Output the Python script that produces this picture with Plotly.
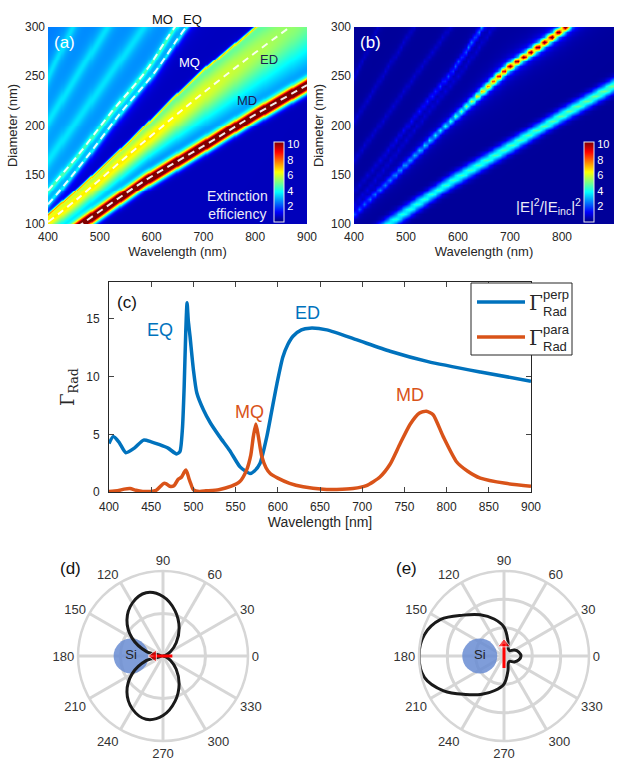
import numpy as np
import plotly.graph_objects as go

W, H = 622, 761
def PX(x): return x / W
def PY(y): return 1 - y / H

# ---------------- data: mode positions (wavelength nm -> diameter nm) ----------------
MD_LAM = [400, 465, 587, 703, 800, 900]
MD_D = [76, 100, 144, 180, 211, 241]
ED_LAM = [400, 458, 555, 639, 697, 780, 867, 900]
ED_D = [102, 126, 170, 207, 232, 266, 300, 313]
MQ_LAM = [400, 458, 555, 639, 703, 800, 900]
MQ_D = [110, 136, 183, 227, 258, 300, 340]
EQ_LAM = [400, 423, 478, 542, 606, 664, 900]
EQ_D = [120, 134, 170, 214, 254, 298, 450]
MO_LAM = [400, 458, 523, 587, 645, 900]
MO_D = [134, 170, 214, 254, 300, 470]
S1_LAM = [400, 448, 900]; S1_D = [250, 302, 800]
S2_LAM = [400, 516, 900]; S2_D = [205, 302, 640]
S3_LAM = [400, 587, 900]; S3_D = [165, 302, 530]

# extinction amplitudes / widths read along the bands
ED_AMP_LAM = [400, 600, 900]; ED_AMP = [5.8, 6.0, 4.6]
ED_W_LAM = [400, 600, 900]; ED_W = [12, 20, 55]

# field enhancement (b)
MQB_LAM = [400, 476, 585, 694, 806, 900]; MQB_D = [110, 149, 205, 258, 300, 340]
MQB_AMP_LAM = [400, 500, 580, 620, 650, 680, 800]; MQB_AMP = [1.8, 3.0, 4.0, 5.5, 8.0, 10.5, 11.5]
MDB_AMP_LAM = [400, 600, 900]; MDB_AMP = [3.8, 4.2, 4.8]
MOB_AMP_LAM = [400, 500, 600, 660]; MOB_AMP = [0.5, 1.0, 2.0, 3.0]

# (c) radiative decay rates
PERP_LAM = [400, 405, 412, 420, 430, 441, 450, 460, 470, 480, 484, 487, 489, 491, 492.5, 494, 496, 500, 504, 512,
            520, 531, 543, 555, 562, 567, 572, 579, 587, 593, 599, 606, 612, 618, 628, 638, 658, 693, 733, 778, 840, 900]
PERP_VAL = [4.2, 4.8, 4.3, 3.4, 3.8, 4.5, 4.35, 4.1, 3.8, 3.3, 3.5, 5.5, 9.0, 14.0, 16.4, 14.8, 13.5, 10.6, 8.6, 7.1,
            6.0, 4.8, 3.6, 2.2, 1.8, 1.6, 1.8, 2.5, 4.8, 7.1, 9.4, 11.7, 12.8, 13.5, 14.05, 14.2, 14.05, 13.2, 12.2, 11.3, 10.4, 9.6]
PARA_LAM = [400, 410, 418, 425, 432, 440, 450, 456, 461, 465, 468, 472, 477, 482, 486, 489, 491, 493, 495, 497, 500,
            507, 515, 530, 545, 555, 563, 568, 571, 574, 577, 581, 586, 591, 600, 614, 630, 654, 670, 689, 705, 721,
            733, 745, 757, 768, 776, 784, 796, 812, 825, 840, 870, 900]
PARA_VAL = [0.05, 0.1, 0.25, 0.3, 0.15, 0.05, 0.05, 0.15, 0.5, 0.75, 0.7, 0.5, 0.55, 1.1, 1.3, 1.7, 1.9, 1.6, 1.1, 0.7, 0.2,
            0.05, 0.1, 0.2, 0.5, 0.9, 1.9, 3.2, 4.8, 5.9, 4.8, 3.1, 2.1, 1.6, 1.2, 0.75, 0.45, 0.23, 0.22, 0.3, 0.55, 1.3,
            2.4, 4.2, 5.9, 6.85, 7.0, 6.7, 4.8, 2.6, 1.8, 1.2, 0.75, 0.5]

# (d), (e) emission patterns
THETA = [0, 15, 30, 45, 60, 75, 90, 105, 120, 135, 150, 165, 180, 195, 210, 225, 240, 255, 270, 285, 300, 315, 330, 345, 360]
R_D = [0.0, 0.03, 0.1, 0.22, 0.38, 0.55, 0.7, 0.77, 0.72, 0.6, 0.42, 0.2, 0.02, 0.2, 0.42, 0.6, 0.72, 0.77, 0.7, 0.55, 0.38, 0.22, 0.1, 0.03, 0.0]
R_E = [0.2, 0.18, 0.14, 0.09, 0.1, 0.18, 0.34, 0.45, 0.56, 0.68, 0.86, 0.97, 1.0, 0.97, 0.82, 0.64, 0.52, 0.42, 0.33, 0.18, 0.1, 0.09, 0.14, 0.18, 0.2]
ANG_TICKS = [0, 30, 60, 90, 120, 150, 180, 210, 240, 270, 300, 330]

JET = [[0, 'rgb(0,0,128)'], [0.125, 'rgb(0,0,255)'], [0.375, 'rgb(0,255,255)'],
       [0.625, 'rgb(255,255,0)'], [0.875, 'rgb(255,0,0)'], [1, 'rgb(128,0,0)']]

def lor(x, w):
    return 1.0 / (1.0 + (x / w) ** 2)

def sig(x):
    return 1.0 / (1.0 + np.exp(-x))

# ---------------- panel (a) grid ----------------
lam_a = np.arange(400, 901, 2.0)
dia_a = np.arange(100, 301, 1.0)
La, Da = np.meshgrid(lam_a, dia_a)
dMD = Da - np.interp(La, MD_LAM, MD_D)
dED = Da - np.interp(La, ED_LAM, ED_D)
dMQ = Da - np.interp(La, MQ_LAM, MQ_D)
dEQ = Da - np.interp(La, EQ_LAM, EQ_D)
dMO = Da - np.interp(La, MO_LAM, MO_D)
ed = np.interp(La, ED_AMP_LAM, ED_AMP) * lor(dED, np.interp(La, ED_W_LAM, ED_W))
ed = ed * sig(dMD / 2.0) * sig(-(dMQ - 1.5) / 0.7)
z_a = 0.6 + ed + 11.5 * np.exp(-(dMD / 7.0) ** 2) + 3.0 * lor(dMQ, 1.2)
z_a += 1.9 * sig(dEQ / 4.0) + 2.0 * lor(dEQ, 3.5) + 2.0 * lor(dMO, 4.0)
for sl, sd in [(S1_LAM, S1_D), (S2_LAM, S2_D), (S3_LAM, S3_D)]:
    z_a += 1.0 * lor(Da - np.interp(La, sl, sd), 10.0)

# ---------------- panel (b) grid (coarse sampling) ----------------
lam_b = np.arange(400, 901, 5.0)
dia_b = np.arange(100, 301, 5.0)
Lb, Db = np.meshgrid(lam_b, dia_b)
z_b = 0.25 + np.interp(Lb, MDB_AMP_LAM, MDB_AMP) * np.exp(-((Db - np.interp(Lb, MD_LAM, MD_D)) / 6.5) ** 2)
z_b += np.interp(Lb, MQB_AMP_LAM, MQB_AMP) * lor(Db - np.interp(Lb, MQB_LAM, MQB_D), 2.8)
z_b += np.interp(Lb, MOB_AMP_LAM, MOB_AMP) * lor(Db - np.interp(Lb, MO_LAM, MO_D), 2.5)
z_b += 0.6 * lor(Db - np.interp(Lb, EQ_LAM, EQ_D), 2.5)
for sl, sd in [(S1_LAM, S1_D), (S2_LAM, S2_D), (S3_LAM, S3_D)]:
    z_b += 0.6 * lor(Db - np.interp(Lb, sl, sd), 3.0)

FONT = 'Liberation Sans, Arial, sans-serif'
TXT = '#262626'
fig = go.Figure()

def cbar(xpx):
    return dict(x=PX(xpx), xanchor='left', y=PY(222), yanchor='bottom', len=80 / H, lenmode='fraction',
                thickness=10, thicknessmode='pixels', xpad=0, ypad=0, tickvals=[2, 4, 6, 8, 10],
                tickfont=dict(color='white', size=11, family=FONT), outlinecolor='#e8e8f0', outlinewidth=1, ticks='')

fig.add_trace(go.Heatmap(x=lam_a, y=dia_a, z=z_a, colorscale=JET, zmin=0, zmax=10.3, zsmooth='best',
                         xaxis='x', yaxis='y', colorbar=cbar(274), hoverinfo='skip'))
fig.add_trace(go.Heatmap(x=lam_b, y=dia_b, z=z_b, colorscale=JET, zmin=0, zmax=10.3, zsmooth='best',
                         xaxis='x2', yaxis='y2', colorbar=cbar(584), hoverinfo='skip'))

for lx, dy in [(MO_LAM, MO_D), (EQ_LAM, EQ_D), (ED_LAM, ED_D), (MD_LAM, MD_D)]:
    fig.add_trace(go.Scatter(x=lx, y=dy, mode='lines', xaxis='x', yaxis='y', showlegend=False,
                             line=dict(color='rgba(255,255,255,0.9)', width=2, dash='7px,5px', shape='spline')))

# ---------------- panel (c) ----------------
BLUE, ORANGE = '#0072BD', '#D95319'
fig.add_trace(go.Scatter(x=PERP_LAM, y=PERP_VAL, mode='lines', xaxis='x3', yaxis='y3', showlegend=False,
                         line=dict(color=BLUE, width=3.5, shape='spline', smoothing=0.6)))
fig.add_trace(go.Scatter(x=PARA_LAM, y=PARA_VAL, mode='lines', xaxis='x3', yaxis='y3', showlegend=False,
                         line=dict(color=ORANGE, width=3.5, shape='spline', smoothing=0.6)))

# ---------------- panels (d), (e) ----------------
def polar_traces(sub, r, si_r, arrow_r, arrow_th, sym):
    fig.add_trace(go.Scatterpolar(r=[si_r], theta=[180], mode='markers+text', subplot=sub, showlegend=False,
                                  marker=dict(size=35, color='rgba(105,140,210,0.85)'), text=['Si'],
                                  textposition='middle center', textfont=dict(size=13, color='#222', family=FONT)))
    fig.add_trace(go.Scatterpolar(r=r, theta=THETA, mode='lines', subplot=sub, showlegend=False,
                                  line=dict(color='#1a1a1a', width=3, shape='spline')))
    fig.add_trace(go.Scatterpolar(r=arrow_r, theta=arrow_th, mode='lines+markers', subplot=sub, showlegend=False,
                                  line=dict(color='#ff0000', width=3),
                                  marker=dict(symbol=sym, size=[0, 11], color='#ff0000')))

polar_traces('polar', R_D, 0.375, [0.11, 0.11], [0, 180], 'triangle-left')
polar_traces('polar2', R_E, 0.285, [0.14, 0.14], [270, 90], 'triangle-up')

GRID = '#d6d6d6'
PCY, PR = 656, 85
def polar_layout(cx, rings):
    return dict(domain=dict(x=[PX(cx - PR), PX(cx + PR)], y=[PY(PCY + PR), PY(PCY - PR)]), bgcolor='white',
                radialaxis=dict(range=[0, 1], showticklabels=False, ticks='', showline=False,
                                tickvals=rings, gridcolor=GRID, gridwidth=2.5),
                angularaxis=dict(tickmode='array', tickvals=ANG_TICKS, ticktext=[str(t) for t in ANG_TICKS],
                                 ticks='', gridcolor=GRID, gridwidth=2.5, linecolor=GRID, linewidth=2.5,
                                 showline=True, tickfont=dict(size=13, color='#333', family=FONT),
                                 rotation=0, direction='counterclockwise'))

ax_common = dict(showgrid=False, zeroline=False, tickfont=dict(size=12, color=TXT, family=FONT),
                 ticks='', automargin=False)
fig.update_layout(
    width=W, height=H, autosize=False, margin=dict(l=0, r=0, t=0, b=0, pad=0),
    paper_bgcolor='white', plot_bgcolor='white', showlegend=False,
    font=dict(family=FONT, color=TXT),
    xaxis=dict(domain=[PX(48), PX(307)], range=[400, 900], dtick=100, anchor='y', ticklabelstandoff=4,
               title=dict(text='Wavelength (nm)', font=dict(size=13), standoff=1), **ax_common),
    yaxis=dict(domain=[PY(224), PY(27)], range=[100, 300], dtick=50, anchor='x', ticklabelstandoff=2,
               title=dict(text='Diameter (nm)', font=dict(size=13), standoff=4), **ax_common),
    xaxis2=dict(domain=[PX(354), PX(614)], range=[400, 900], dtick=100, anchor='y2', ticklabelstandoff=4,
                title=dict(text='Wavelength (nm)', font=dict(size=13), standoff=1), **ax_common),
    yaxis2=dict(domain=[PY(224), PY(27)], range=[100, 300], dtick=50, anchor='x2', ticklabelstandoff=2,
                title=dict(text='Diameter (nm)', font=dict(size=13), standoff=4), **ax_common),
    xaxis3=dict(domain=[PX(109), PX(531)], range=[400, 900], dtick=50, anchor='y3', automargin=False,
                showline=True, linecolor=TXT, linewidth=1, mirror='ticks', ticks='inside', ticklen=5,
                ticklabelstandoff=4,
                showgrid=False, zeroline=False, tickfont=dict(size=12, color=TXT, family=FONT),
                title=dict(text='Wavelength [nm]', font=dict(size=14), standoff=1)),
    yaxis3=dict(domain=[PY(492), PY(282)], range=[0, 18.2], tickvals=[0, 5, 10, 15], anchor='x3', automargin=False,
                showline=True, linecolor=TXT, linewidth=1, mirror='ticks', ticks='inside', ticklen=5,
                ticklabelstandoff=6,
                showgrid=False, zeroline=False, tickfont=dict(size=12, color=TXT, family=FONT),
                title=dict(text='Γ<sub>Rad</sub>', font=dict(size=18, family='DejaVu Serif, serif'), standoff=6)),
    polar=polar_layout(163, [0.5]),
    polar2=polar_layout(504, [1 / 3, 2 / 3]),
)

def ann(x, y, text, size, color, xref='paper', yref='paper', xanchor='center', family=FONT):
    fig.add_annotation(x=x, y=y, xref=xref, yref=yref, text=text, showarrow=False,
                       xanchor=xanchor, yanchor='middle', font=dict(size=size, color=color, family=family))

# legend box for (c)
fig.add_shape(type='rect', xref='paper', yref='paper', x0=PX(471), x1=PX(572), y0=PY(355), y1=PY(283),
              fillcolor='white', line=dict(color=TXT, width=1))
for ypx, col, sup in [(302, BLUE, 'perp'), (337, ORANGE, 'para')]:
    fig.add_shape(type='line', xref='paper', yref='paper', x0=PX(477), x1=PX(525), y0=PY(ypx), y1=PY(ypx),
                  line=dict(color=col, width=3.5))
    ann(PX(527), PY(ypx + 1), 'Γ', 20, TXT, xanchor='left', family='DejaVu Serif, serif')
    ann(PX(541), PY(ypx - 8), sup, 13, TXT, xanchor='left')
    ann(PX(541), PY(ypx + 9), 'Rad', 13, TXT, xanchor='left')

# panel labels and mode labels
ann(PX(64), PY(43), '(a)', 17, 'white')
ann(PX(370), PY(42), '(b)', 17, 'white')
ann(PX(127), PY(302), '(c)', 17, '#111')
ann(PX(70), PY(568), '(d)', 17, '#111')
ann(PX(406), PY(568), '(e)', 17, '#111')
ann(PX(162), PY(19), 'MO', 13, '#111')
ann(PX(192), PY(19), 'EQ', 13, '#111')
ann(PX(189), PY(62), 'MQ', 13, 'white')
ann(PX(269), PY(60), 'ED', 13, '#1a2050')
ann(PX(247), PY(101), 'MD', 13, '#1a2050')
ann(PX(237), PY(205), 'Extinction<br>efficiency', 14, '#ececf8')
ann(PX(548), PY(206), '|E|<sup>2</sup>/|E<sub>inc</sub>|<sup>2</sup>', 15, '#ececf8')
ann(460, 14.0, 'EQ', 18, BLUE, 'x3', 'y3')
ann(635, 15.5, 'ED', 18, BLUE, 'x3', 'y3')
ann(567, 6.9, 'MQ', 18, ORANGE, 'x3', 'y3')
ann(757, 8.4, 'MD', 18, ORANGE, 'x3', 'y3')

fig.write_html('out.html', config={'displayModeBar': False},
               post_script="document.body.style.margin='0px';document.body.style.overflow='hidden';")
